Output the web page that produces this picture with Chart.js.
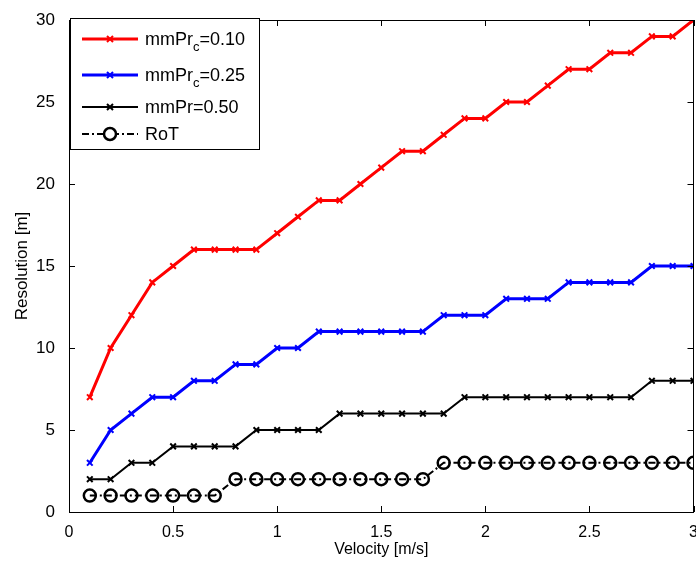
<!DOCTYPE html>
<html>
<head>
<meta charset="utf-8">
<script src="https://cdn.jsdelivr.net/npm/chart.js@4.4.0/dist/chart.umd.min.js"></script>
<style>
    html, body { margin: 0; padding: 0; background: #fff; overflow: hidden; }
    #wrap { width: 696px; height: 565px; overflow: hidden; }
</style>
</head>
<body>
<div id="wrap"><canvas id="grafico" width="702" height="565"></canvas></div>
<script>
// Datos
const velocidad = [0.1, 0.2, 0.3, 0.4, 0.5, 0.6, 0.7, 0.8, 0.9, 1.0,
                   1.1, 1.2, 1.3, 1.4, 1.5, 1.6, 1.7, 1.8, 1.9, 2.0,
                   2.1, 2.2, 2.3, 2.4, 2.5, 2.6, 2.7, 2.8, 2.9, 3.0];
const mmPr010 = [7, 10, 12, 14, 15, 16, 16, 16, 16, 17, 18, 19, 19, 20, 21,
                 22, 22, 23, 24, 24, 25, 25, 26, 27, 27, 28, 28, 29, 29, 30];
const mmPr025 = [3, 5, 6, 7, 7, 8, 8, 9, 9, 10, 10, 11, 11, 11, 11,
                 11, 11, 12, 12, 12, 13, 13, 13, 14, 14, 14, 14, 15, 15, 15];
const mmPr050 = [2, 2, 3, 3, 4, 4, 4, 4, 5, 5, 5, 5, 6, 6, 6,
                 6, 6, 6, 7, 7, 7, 7, 7, 7, 7, 7, 7, 8, 8, 8];
const rot = [1, 1, 1, 1, 1, 1, 1, 2, 2, 2, 2, 2, 2, 2, 2,
             2, 2, 3, 3, 3, 3, 3, 3, 3, 3, 3, 3, 3, 3, 3];
const xTicks = [0, 0.5, 1, 1.5, 2, 2.5, 3];
const yTicks = [0, 5, 10, 15, 20, 25, 30];

// Leyenda: texto principal, subíndice, resto
const leyenda = [
    { main: "mmPr", sub: "c", rest: "=0.10", color: "#ff0000", tipo: "cruz" },
    { main: "mmPr", sub: "c", rest: "=0.25", color: "#0000ff", tipo: "cruz" },
    { main: "mmPr", sub: "", rest: "=0.50", color: "#000000", tipo: "cruz" },
    { main: "RoT", sub: "", rest: "", color: "#000000", tipo: "circulo" }
];

const fuente = "'Liberation Sans', Arial, sans-serif";

function puntos(valores) {
    return velocidad.map((v, i) => ({ x: v, y: valores[i] }));
}

const marco = {
    id: "marco",
    afterDatasetsDraw(chart) {
        const ctx = chart.ctx;
        const a = chart.chartArea;
        const sx = chart.scales.x;
        const sy = chart.scales.y;
        ctx.save();
        ctx.strokeStyle = "#000";
        ctx.lineWidth = 1;
        ctx.strokeRect(Math.round(a.left) + 0.5, Math.round(a.top) + 0.5,
                       Math.round(a.right - a.left) - 1, Math.round(a.bottom - a.top));
        ctx.beginPath();
        xTicks.forEach(v => {
            const px = Math.round(sx.getPixelForValue(v)) + 0.5;
            ctx.moveTo(px, a.bottom); ctx.lineTo(px, a.bottom - 6);
            ctx.moveTo(px, a.top); ctx.lineTo(px, a.top + 6);
        });
        yTicks.forEach(v => {
            const py = Math.round(sy.getPixelForValue(v)) + 0.5;
            ctx.moveTo(a.left, py); ctx.lineTo(a.left + 6, py);
            ctx.moveTo(a.right, py); ctx.lineTo(a.right - 6, py);
        });
        ctx.stroke();
        ctx.restore();
    },
    afterDraw(chart) {
        const ctx = chart.ctx;
        ctx.save();
        ctx.fillStyle = "#fff";
        ctx.fillRect(70, 18, 189, 131);
        ctx.strokeStyle = "#000";
        ctx.lineWidth = 1;
        ctx.strokeRect(70.5, 18.5, 189, 131);

        const filas = [39, 75, 107, 134];
        leyenda.forEach((item, i) => {
            const y = filas[i];
            ctx.strokeStyle = item.color;
            ctx.lineWidth = item.tipo === "circulo" ? 2 : (i === 2 ? 2 : 3);
            ctx.setLineDash(item.tipo === "circulo" ? [7, 3, 2, 3] : []);
            ctx.beginPath();
            ctx.moveTo(82, y); ctx.lineTo(138, y);
            ctx.stroke();
            ctx.setLineDash([]);
            ctx.lineWidth = 2;
            ctx.beginPath();
            if (item.tipo === "circulo") {
                ctx.fillStyle = "#fff";
                ctx.arc(110, y, 6, 0, Math.PI * 2);
                ctx.fill();
                ctx.lineWidth = 2.5;
                ctx.stroke();
            } else {
                ctx.moveTo(107, y - 3); ctx.lineTo(113, y + 3);
                ctx.moveTo(113, y - 3); ctx.lineTo(107, y + 3);
                ctx.stroke();
            }

            ctx.fillStyle = "#000";
            ctx.textBaseline = "alphabetic";
            ctx.font = "18px " + fuente;
            let x = 145;
            ctx.fillText(item.main, x, y + 6);
            x += ctx.measureText(item.main).width;
            if (item.sub) {
                ctx.font = "13px " + fuente;
                ctx.fillText(item.sub, x, y + 12);
                x += ctx.measureText(item.sub).width;
                ctx.font = "18px " + fuente;
            }
            ctx.fillText(item.rest, x, y + 6);
        });
        ctx.restore();
    }
};

const ctx = document.getElementById("grafico").getContext("2d");
const myChart = new Chart(ctx, {
    type: "line",
    data: {
        datasets: [
            {
                label: "mmPrc=0.10",
                data: puntos(mmPr010),
                borderColor: "#ff0000",
                backgroundColor: "#ff0000",
                borderWidth: 3,
                pointStyle: "crossRot",
                pointRadius: 4,
                pointBorderWidth: 2,
                clip: 0
            },
            {
                label: "mmPrc=0.25",
                data: puntos(mmPr025),
                borderColor: "#0000ff",
                backgroundColor: "#0000ff",
                borderWidth: 3,
                pointStyle: "crossRot",
                pointRadius: 4,
                pointBorderWidth: 2,
                clip: 0
            },
            {
                label: "mmPr=0.50",
                data: puntos(mmPr050),
                borderColor: "#000000",
                backgroundColor: "#000000",
                borderWidth: 2,
                pointStyle: "crossRot",
                pointRadius: 4,
                pointBorderWidth: 2,
                clip: 0
            },
            {
                label: "RoT",
                data: puntos(rot),
                borderColor: "#000000",
                backgroundColor: "rgba(0,0,0,0)",
                borderWidth: 2,
                borderDash: [7, 3, 2, 3],
                pointStyle: "circle",
                pointRadius: 6,
                pointBorderWidth: 2.5,
                pointBackgroundColor: "rgba(255,255,255,0)",
                clip: 0
            }
        ]
    },
    options: {
        responsive: false,
        devicePixelRatio: 1,
        animation: false,
        layout: { padding: { top: 20, right: 2, left: 0, bottom: 0 } },
        plugins: {
            legend: { display: false },
            tooltip: { enabled: false }
        },
        scales: {
            x: {
                type: "linear",
                min: 0,
                max: 3,
                grid: { display: false },
                border: { display: false },
                afterBuildTicks: s => { s.ticks = xTicks.map(v => ({ value: v })); },
                ticks: {
                    color: "#000",
                    padding: 3,
                    maxRotation: 0,
                    font: { family: fuente, size: 16 },
                    callback: v => String(v)
                },
                title: {
                    display: true,
                    text: "Velocity [m/s]",
                    color: "#000",
                    font: { family: fuente, size: 16 },
                    padding: { top: 0, bottom: 6 }
                },
                afterFit: s => { s.height = 53; }
            },
            y: {
                min: 0,
                max: 30,
                grid: { display: false },
                border: { display: false },
                afterBuildTicks: s => { s.ticks = yTicks.map(v => ({ value: v })); },
                ticks: {
                    color: "#000",
                    padding: 6,
                    font: { family: fuente, size: 17 },
                    callback: v => String(v)
                },
                title: {
                    display: true,
                    text: "Resolution [m]",
                    color: "#000",
                    font: { family: fuente, size: 17 },
                    padding: { top: 12, bottom: 0 }
                },
                afterFit: s => { s.width = 69; }
            }
        }
    },
    plugins: [marco]
});
</script>
</body>
</html>
